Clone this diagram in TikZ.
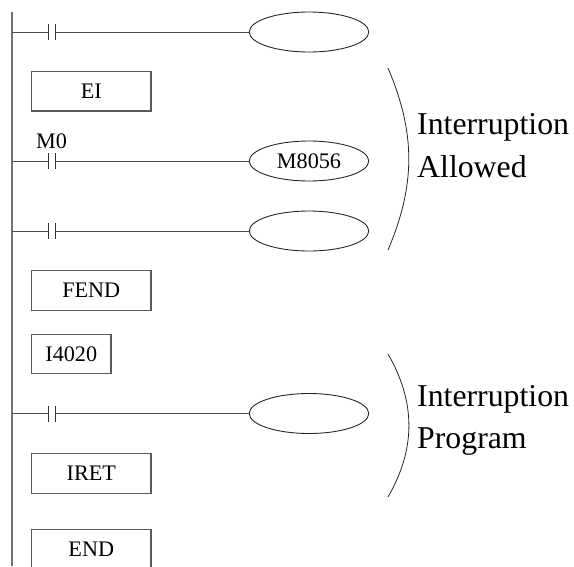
\documentclass[tikz,border=0pt]{standalone}
\usepackage{fontspec}
\setmainfont{Liberation Serif}
\usetikzlibrary{calc}
\usetikzlibrary{positioning}
\usetikzlibrary{shapes.geometric}

\tikzset{
  railline/.style={line width=1.5pt, black!55},
  wire/.style={line width=0.9pt, black!70},
  contact/.style={line width=1pt, black!80},
  plcbox/.style={draw=black!65, line width=1.2pt, minimum height=39.5pt, inner sep=0pt, font=\fontsize{22.2}{26}\selectfont},
  coil/.style={draw=black!85, line width=0.9pt, ellipse, minimum width=119.5pt, minimum height=40pt, inner sep=0pt, font=\fontsize{22.2}{26}\selectfont},
  smalltxt/.style={inner sep=0pt, anchor=base west, font=\fontsize{22.2}{26}\selectfont},
  bigtxt/.style={inner sep=0pt, anchor=base west, font=\fontsize{31.8}{36}\selectfont},
  bracket/.style={line width=0.8pt, black!85}
}

\begin{document}
\begin{tikzpicture}[x=1pt, y=-1pt]
\useasboundingbox (0,0) rectangle (574,566);

% power rail
\coordinate (railtop) at (12,12);
\coordinate (railbot) at (12,566);
\draw[railline] (railtop) -- (railbot);

% rungs: contact and coil
\foreach \i/\y/\lab in {1/32/, 2/161/M8056, 3/231/, 4/413.5/} {
  \coordinate (rail\i) at (12,\y);
  \coordinate (cl\i) at (48,\y);
  \coordinate (cr\i) at (55.5,\y);
  \node[coil] (coil\i) at (309,\y) {\lab};
  \draw[wire] (rail\i) -- (cl\i);
  \draw[wire] (cr\i) -- (coil\i.west);
  \draw[contact] ($(cl\i)+(0,-8)$) -- ($(cl\i)+(0,8)$);
  \draw[contact] ($(cr\i)+(0,-8)$) -- ($(cr\i)+(0,8)$);
}

% contact name
\node[smalltxt] (m0) at (36,148) {M0};

% instruction boxes
\node[plcbox, minimum width=119.5pt] (ei) at (91.3,91.3) {EI};
\node[plcbox, minimum width=119.5pt] (fend) at (91.3,290.5) {FEND};
\node[plcbox, minimum width=79.5pt] (i4020) at (71.3,354) {I4020};
\node[plcbox, minimum width=119.5pt] (iret) at (91.3,473.5) {IRET};
\node[plcbox, minimum width=119.5pt] (endbox) at (91.3,549) {END};

% arc: interruption allowed
\coordinate (atop) at (388,68);
\coordinate (abot) at (388,250);
\draw[bracket] (atop) to[bend left=23] (abot);
\node[bigtxt] (allow1) at (417,134) {Interruption};
\node[bigtxt] (allow2) at (417,177) {Allowed};

% arc: interruption program
\coordinate (ptop) at (388,354);
\coordinate (pbot) at (388,497);
\draw[bracket] (ptop) to[bend left=30] (pbot);
\node[bigtxt] (prog1) at (417,406) {Interruption};
\node[bigtxt] (prog2) at (417,448) {Program};

\end{tikzpicture}
\end{document}
